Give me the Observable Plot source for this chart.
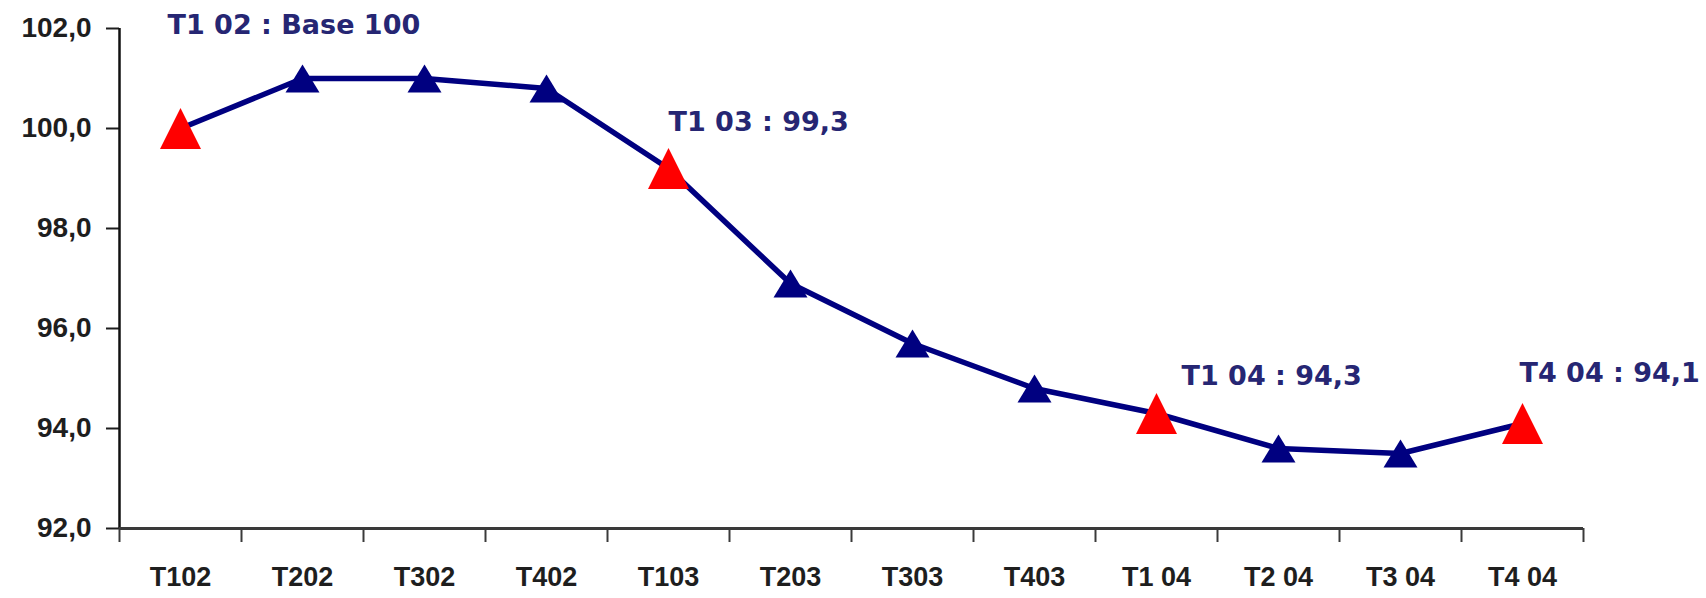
<!DOCTYPE html>
<html><head><meta charset="utf-8">
<script src="https://cdn.jsdelivr.net/npm/d3@7"></script>
<script src="https://cdn.jsdelivr.net/npm/@observablehq/plot@0.6"></script>
<style>
html,body{margin:0;padding:0;background:#fff;}
#chart{width:1706px;height:598px;overflow:hidden;position:relative}
</style></head><body><div id="chart"></div>
<script>
// ---- data ----
const quarters = ["T102","T202","T302","T402","T103","T203","T303","T403","T1 04","T2 04","T3 04","T4 04"];
const indexValues = [100.0,101.0,101.0,100.8,99.2,96.9,95.7,94.8,94.3,93.6,93.5,94.1];
const highlighted = ["T102","T103","T1 04","T4 04"];
const yTicks = [92,94,96,98,100,102];
const annotationQuarters = ["T102","T103","T1 04","T4 04"];
const annotationTexts = ["T1 02 : Base 100","T1 03 : 99,3","T1 04 : 94,3","T4 04 : 94,1"];

// ---- styles ----
const annotationOffsets = [[-13,-103],[0,-46],[25,-37],[-3,-50]];
const NAVY = "#000080", RED = "#ff0000", TEXT = "#1e1e1e", NOTE = "#262673";
const FONT = "'DejaVu Sans', sans-serif";
const AXISFONT = "'Liberation Sans', Arial, sans-serif";
// Excel-like triangle marker centred on its bounding box
const triangle = (hRatio) => ({draw(context, size) {
  const r = Math.sqrt(size / Math.PI), h = r * hRatio;
  context.moveTo(0, -h); context.lineTo(r, h); context.lineTo(-r, h); context.closePath();
}});

const rows = quarters.map((q,i) => ({q, i, v: indexValues[i], hl: highlighted.includes(q)}));

const chart = Plot.plot({
  width: 1706, height: 598,
  marginLeft: 119, marginRight: 123, marginTop: 28, marginBottom: 70,
  style: {fontFamily: AXISFONT, background: "transparent", overflow: "visible"},
  x: {domain: [-0.5, quarters.length - 0.5]},
  y: {domain: [92, 102]},
  marks: [
    Plot.axisY({ticks: yTicks, tickFormat: d => d.toFixed(1).replace(".", ","), tickSize: 13, tickPadding: 15,
      fontSize: 28, fontWeight: "bold", fontFamily: AXISFONT, color: TEXT, strokeWidth: 2, label: null}),
    Plot.axisX({ticks: quarters.map((q,i) => i), tickFormat: i => quarters[i], tickSize: 0, tickPadding: 38,
      fontSize: 27, fontWeight: "bold", fontFamily: AXISFONT, color: TEXT, label: null}),
    Plot.axisX({ticks: d3.range(quarters.length + 1).map(i => i - 0.5), tickFormat: () => "", tickSize: 14,
      stroke: "#3a3a3a", strokeWidth: 2, label: null}),
    Plot.ruleX([-0.5], {stroke: "#111", strokeWidth: 2.5}),
    Plot.ruleY([92], {stroke: "#3a3a3a", strokeWidth: 3}),
    Plot.line(rows, {x: "i", y: "v", stroke: NAVY, strokeWidth: 5.5, strokeLinejoin: "round"}),
    Plot.dot(rows.filter(d => !d.hl), {x: "i", y: "v", symbol: triangle(0.82), r: 17, fill: NAVY}),
    Plot.dot(rows.filter(d => d.hl), {x: "i", y: "v", symbol: triangle(1), r: 20.5, fill: RED}),
    ...annotationTexts.map((t, k) => Plot.text(rows.filter(d => d.q === annotationQuarters[k]), {
      x: "i", y: "v", text: () => t, textAnchor: "start",
      dx: annotationOffsets[k][0], dy: annotationOffsets[k][1],
      fontSize: 27, fontWeight: "bold", fill: NOTE, fontFamily: FONT
    }))
  ]
});
document.getElementById("chart").appendChild(chart);
</script>
</body></html>
